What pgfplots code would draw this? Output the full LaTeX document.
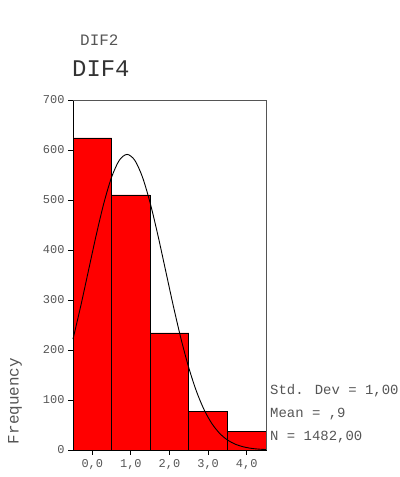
\documentclass[border=0pt]{standalone}
\usepackage{fontspec}
\setmainfont{Liberation Mono}
\usepackage{pgfplots}
\pgfplotsset{compat=1.18}
\definecolor{txtgray}{HTML}{555555}
\begin{document}
\begin{tikzpicture}[x=1bp,y=1bp]
\useasboundingbox (0,0) rectangle (399,477);
\begin{axis}[
  at={(73bp,27bp)}, anchor=south west,
  scale only axis, width=193bp, height=350bp,
  xmin=-0.5, xmax=4.5, ymin=0, ymax=700,
  xtick={0,1,2,3,4}, xticklabels={{0,0},{1,0},{2,0},{3,0},{4,0}},
  ytick={0,100,...,700},
  tick align=outside, major tick length=5bp,
  xtick pos=bottom, ytick pos=left,
  tick style={black, line width=0.9pt},
  axis line style={line width=0.9pt, black},
  /pgf/number format/assume math mode=true,
  ticklabel style={font=\fontsize{12}{12}\selectfont, text=txtgray},
  xticklabel style={yshift=-1bp},
  clip=false,
]
\addplot[ybar interval, fill=red, draw=black, line width=0.9pt] coordinates {
 (-0.5,624) (0.5,510) (1.5,234) (2.5,77) (3.5,37) (4.5,37)};
\addplot[black, line width=0.9pt, smooth] coordinates {
 (-0.5,221.9) (-0.3,287.8) (-0.1,358.6) (0.1,429.3) (0.3,493.8) (0.5,545.7)
 (0.7,579.5) (0.9,591.2) (1.1,579.5) (1.3,545.7) (1.5,493.8) (1.7,429.3)
 (1.9,358.6) (2.1,287.8) (2.3,221.9) (2.5,164.4) (2.7,117.0) (2.9,80.0)
 (3.1,52.6) (3.3,33.2) (3.5,20.1) (3.7,11.7) (3.9,6.6) (4.1,3.5) (4.3,1.8) (4.5,0.9)};
\draw[txtgray, line width=0.9pt] (axis cs:-0.5,700) -- (axis cs:4.5,700) -- (axis cs:4.5,0);
\end{axis}
\node[anchor=west, text=txtgray, font=\fontsize{16}{16}\selectfont, inner sep=0] at (80,437) {DIF2};
\node[anchor=west, text=black!80, font=\fontsize{24}{24}\selectfont, inner sep=0] at (72,408) {DIF4};
\node[rotate=90, text=txtgray, font=\fontsize{16}{16}\selectfont, inner sep=0] at (15,76) {Frequency};
\node[anchor=west, text=txtgray, font=\fontsize{14}{14}\selectfont, inner sep=0] at (270,86) {Std. Dev = 1,00};
\node[anchor=west, text=txtgray, font=\fontsize{14}{14}\selectfont, inner sep=0] at (270,63) {Mean = ,9};
\node[anchor=west, text=txtgray, font=\fontsize{14}{14}\selectfont, inner sep=0] at (270,40) {N = 1482,00};
\end{tikzpicture}
\end{document}
